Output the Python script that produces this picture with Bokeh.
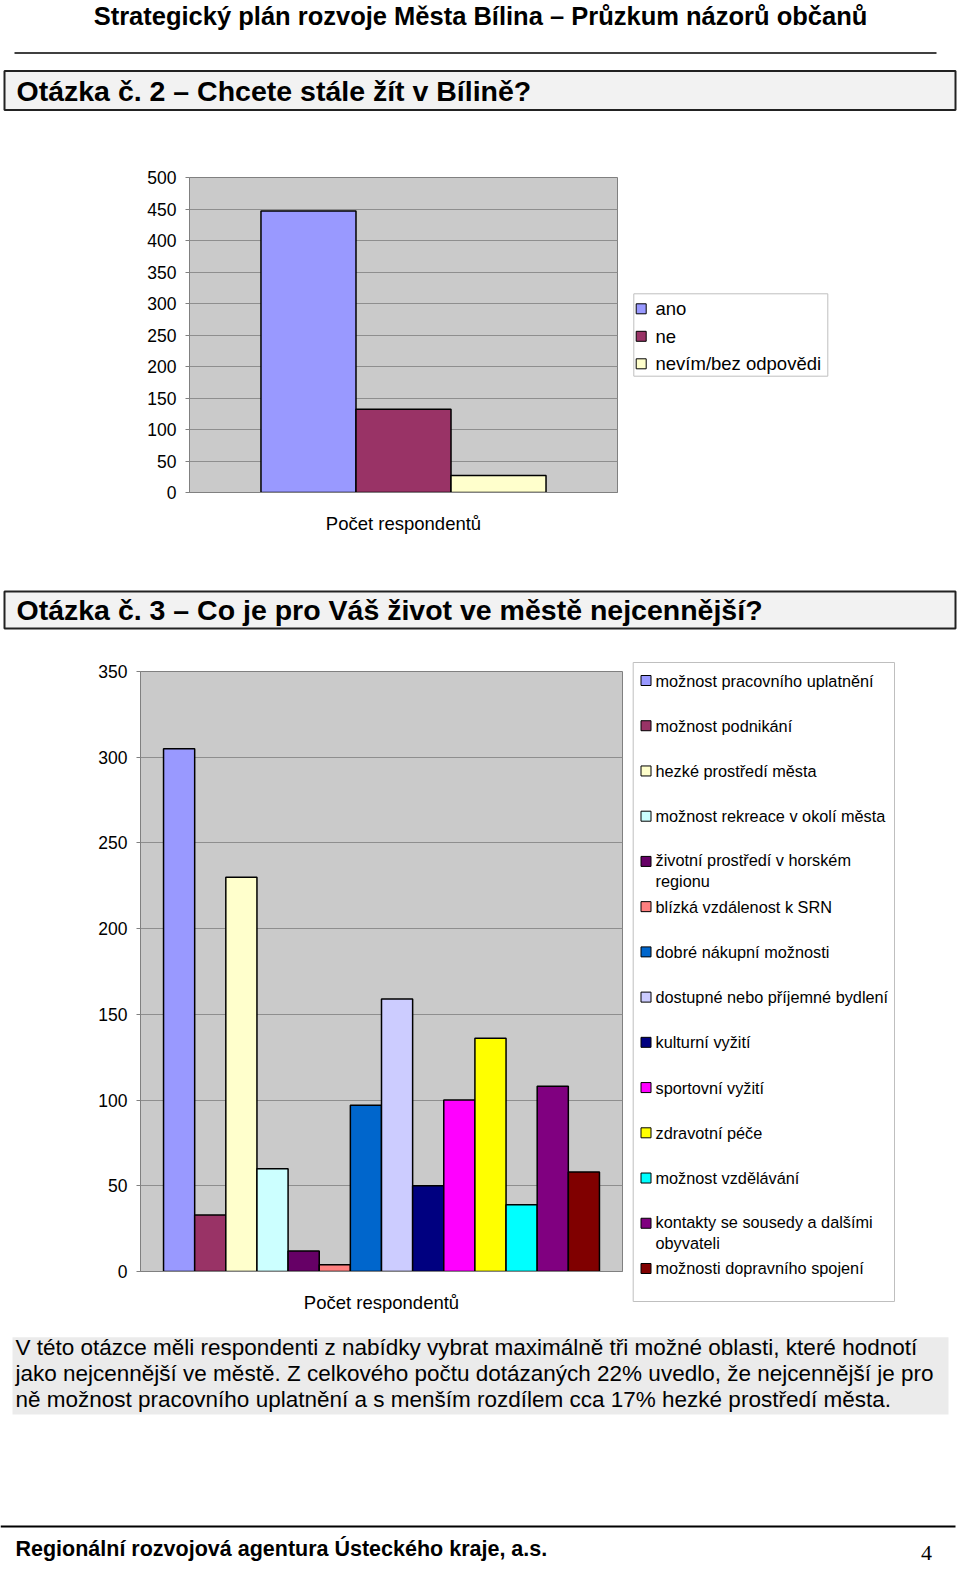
from bokeh.plotting import figure
from bokeh.layouts import column, row
from bokeh.models import Range1d, FactorRange, ColumnDataSource, FixedTicker
from bokeh.transform import dodge
from bokeh.core.properties import value
from bokeh.embed import file_html
from bokeh.resources import INLINE

# ---------------- data ----------------
header_text = "Strategický plán rozvoje Města Bílina – Průzkum názorů občanů"

q2_title = "Otázka č. 2 – Chcete stále žít v Bílině?"
q2_category = "Počet respondentů"
q2_labels = ["ano", "ne", "nevím/bez odpovědi"]
q2_values = [447, 132, 27]
q2_colors = ["#9999FF", "#993366", "#FFFFCC"]
q2_ticks = [0, 50, 100, 150, 200, 250, 300, 350, 400, 450, 500]

q3_title = "Otázka č. 3 – Co je pro Váš život ve městě nejcennější?"
q3_category = "Počet respondentů"
q3_labels = [
    "možnost pracovního uplatnění",
    "možnost podnikání",
    "hezké prostředí města",
    "možnost rekreace v okolí města",
    "životní prostředí v horském\nregionu",
    "blízká vzdálenost k SRN",
    "dobré nákupní možnosti",
    "dostupné nebo příjemné bydlení",
    "kulturní vyžití",
    "sportovní vyžití",
    "zdravotní péče",
    "možnost vzdělávání",
    "kontakty se sousedy a dalšími\nobyvateli",
    "možnosti dopravního spojení",
]
q3_values = [305, 33, 230, 60, 12, 4, 97, 159, 50, 100, 136, 39, 108, 58]
q3_colors = ["#9999FF", "#993366", "#FFFFCC", "#CCFFFF", "#660066", "#FF8080",
             "#0066CC", "#CCCCFF", "#000080", "#FF00FF", "#FFFF00", "#00FFFF",
             "#800080", "#800000"]
q3_ticks = [0, 50, 100, 150, 200, 250, 300, 350]

paragraph_lines = [
    "V této otázce měli respondenti z nabídky vybrat maximálně tři možné oblasti, které hodnotí",
    "jako nejcennější ve městě. Z celkového počtu dotázaných 22% uvedlo, že nejcennější je pro",
    "ně možnost pracovního uplatnění a s menším rozdílem cca 17% hezké prostředí města.",
]
footer_text = "Regionální rozvojová agentura Ústeckého kraje, a.s."
page_number = "4"

SANS = "Liberation Sans"
PAGE_W = 960


def canvas(w, h):
    p = figure(width=w, height=h, x_range=Range1d(0, w), y_range=Range1d(h, 0),
               x_axis_type=None, y_axis_type=None, toolbar_location=None,
               output_backend="svg", min_border=0)
    p.outline_line_color = None
    p.background_fill_color = "white"
    p.border_fill_color = "white"
    return p


def mid(baseline, size):
    # y of the text box middle for a wanted alphabetic baseline
    return baseline - 0.35 * size


def style_chart(p, ticks):
    p.background_fill_color = "#CACACA"
    p.border_fill_color = "white"
    p.outline_line_color = "#808080"
    p.outline_line_width = 1
    p.xgrid.visible = False
    p.ygrid.grid_line_color = "#8E8E8E"
    p.ygrid.grid_line_width = 1
    p.yaxis.ticker = FixedTicker(ticks=ticks)
    p.yaxis.axis_line_color = "#808080"
    p.yaxis.major_tick_line_color = "#808080"
    p.yaxis.major_tick_out = 4
    p.yaxis.major_tick_in = 0
    p.yaxis.minor_tick_line_color = None
    p.yaxis.major_label_standoff = 9
    p.yaxis.major_label_text_font = SANS
    p.yaxis.major_label_text_font_size = "17.5px"
    p.yaxis.major_label_text_color = "black"
    p.xaxis.axis_line_color = "#808080"
    p.xaxis.major_tick_line_color = None
    p.xaxis.minor_tick_line_color = None
    p.xaxis.major_label_standoff = 14
    p.xaxis.major_label_text_font = SANS
    p.xaxis.major_label_text_font_size = "18.5px"
    p.xaxis.major_label_text_color = "black"


def add_bars(p, category, values, colors, bar_w):
    n = len(values)
    for i, (val, col) in enumerate(zip(values, colors)):
        src = ColumnDataSource(dict(cat=[category], val=[val]))
        p.vbar(x=dodge("cat", (i - (n - 1) / 2) * bar_w, range=p.x_range),
               top="val", bottom=0, width=bar_w, source=src,
               fill_color=col, line_color="black", line_width=1.5)


def draw_legend(c, labels, colors, box, sq_x, text_x, y0, step, font_size, line_h):
    left, right, top_, bottom = box
    c.quad(left=[left], right=[right], top=[top_], bottom=[bottom], fill_color="white",
           line_color="#BFBFBF", line_width=1)
    lh = font_size * line_h
    src = ColumnDataSource(dict(
        y=[y0 + i * step for i in range(len(labels))],
        label=labels,
        color=colors,
        yoff=[lab.count("\n") * lh / 2 for lab in labels],
    ))
    c.rect(x=sq_x, y="y", width=10, height=10, width_units="screen", height_units="screen",
           fill_color="color", line_color="black", line_width=1, source=src)
    c.text(x=text_x, y="y", text="label", y_offset="yoff", text_align="left",
           text_baseline="middle", text_font=value(SANS), text_font_size=f"{font_size}px",
           text_line_height=line_h, text_color="black", source=src)


# ---------------- top: header + question 2 title ----------------
top = canvas(PAGE_W, 150)
top.text(x=[480], y=[mid(24, 25.5)], text=[header_text], text_align="center", text_baseline="middle",
         text_font=value(SANS), text_font_style="bold", text_font_size="25.5px", text_color="black")
top.segment(x0=[14], y0=[52.5], x1=[936], y1=[52.5], line_color="black", line_width=1.5)
top.quad(left=[4], right=[955], top=[70.5], bottom=[109.5], fill_color="#F2F2F2",
         line_color="#222222", line_width=2)
top.text(x=[16], y=[mid(100, 28.5)], text=[q2_title], text_align="left", text_baseline="middle",
         text_font=value(SANS), text_font_style="bold", text_font_size="28.5px", text_color="black")

# ---------------- chart 1 + its legend ----------------
p1 = figure(width=625, height=420, x_range=FactorRange(factors=[q2_category]),
            y_range=Range1d(0, 500), toolbar_location=None, output_backend="svg",
            min_border_left=189, min_border_right=8, min_border_top=27, min_border_bottom=78)
style_chart(p1, q2_ticks)
add_bars(p1, q2_category, q2_values, q2_colors, 0.222)

l1 = canvas(PAGE_W - 625, 420)
draw_legend(l1, q2_labels, q2_colors, box=(8.3, 202.3, 143.3, 225.7),
            sq_x=15.7, text_x=30, y0=158.3, step=27.5, font_size=18.5, line_h=1.15)

# ---------------- question 3 title ----------------
t2 = canvas(PAGE_W, 70)
t2.quad(left=[4], right=[955], top=[21], bottom=[58], fill_color="#F2F2F2",
        line_color="#222222", line_width=2)
t2.text(x=[16], y=[mid(49, 28.5)], text=[q3_title], text_align="left", text_baseline="middle",
        text_font=value(SANS), text_font_style="bold", text_font_size="28.5px", text_color="black")

# ---------------- chart 2 + its legend ----------------
p2 = figure(width=630, height=680, x_range=FactorRange(factors=[q3_category]),
            y_range=Range1d(0, 350), toolbar_location=None, output_backend="svg",
            min_border_left=140, min_border_right=8, min_border_top=31, min_border_bottom=49)
style_chart(p2, q3_ticks)
add_bars(p2, q3_category, q3_values, q3_colors, 0.0646)

l2 = canvas(PAGE_W - 630, 680)
draw_legend(l2, q3_labels, q3_colors, box=(2.7, 264, 22, 661),
            sq_x=15.5, text_x=25, y0=40.0, step=45.23, font_size=16.3, line_h=1.15)

# ---------------- paragraph + footer ----------------
para = canvas(PAGE_W, 248)
para.quad(left=[12], right=[948], top=[16.7], bottom=[94], fill_color="#EBEBEB", line_color=None)
para.text(x=[15] * len(paragraph_lines),
          y=[mid(35 + i * 25.8, 22.5) for i in range(len(paragraph_lines))],
          text=paragraph_lines, text_align="left", text_baseline="middle",
          text_font=value(SANS), text_font_size="22.5px", text_color="black")
para.segment(x0=[0], y0=[206], x1=[955], y1=[206], line_color="black", line_width=2)
para.text(x=[15], y=[mid(236, 21.5)], text=[footer_text], text_align="left", text_baseline="middle",
          text_font=value(SANS), text_font_style="bold", text_font_size="21.5px", text_color="black")
para.text(x=[926], y=[mid(240, 22)], text=[page_number], text_align="center", text_baseline="middle",
          text_font=value("Liberation Serif"), text_font_size="22px", text_color="black")

# every plot sits in its own box so that Bokeh does not align the frames of siblings
layout = column(row(top), row(row(p1), row(l1)), row(t2), row(row(p2), row(l2)), row(para))

open("out.html", "w").write(file_html(layout, INLINE))
